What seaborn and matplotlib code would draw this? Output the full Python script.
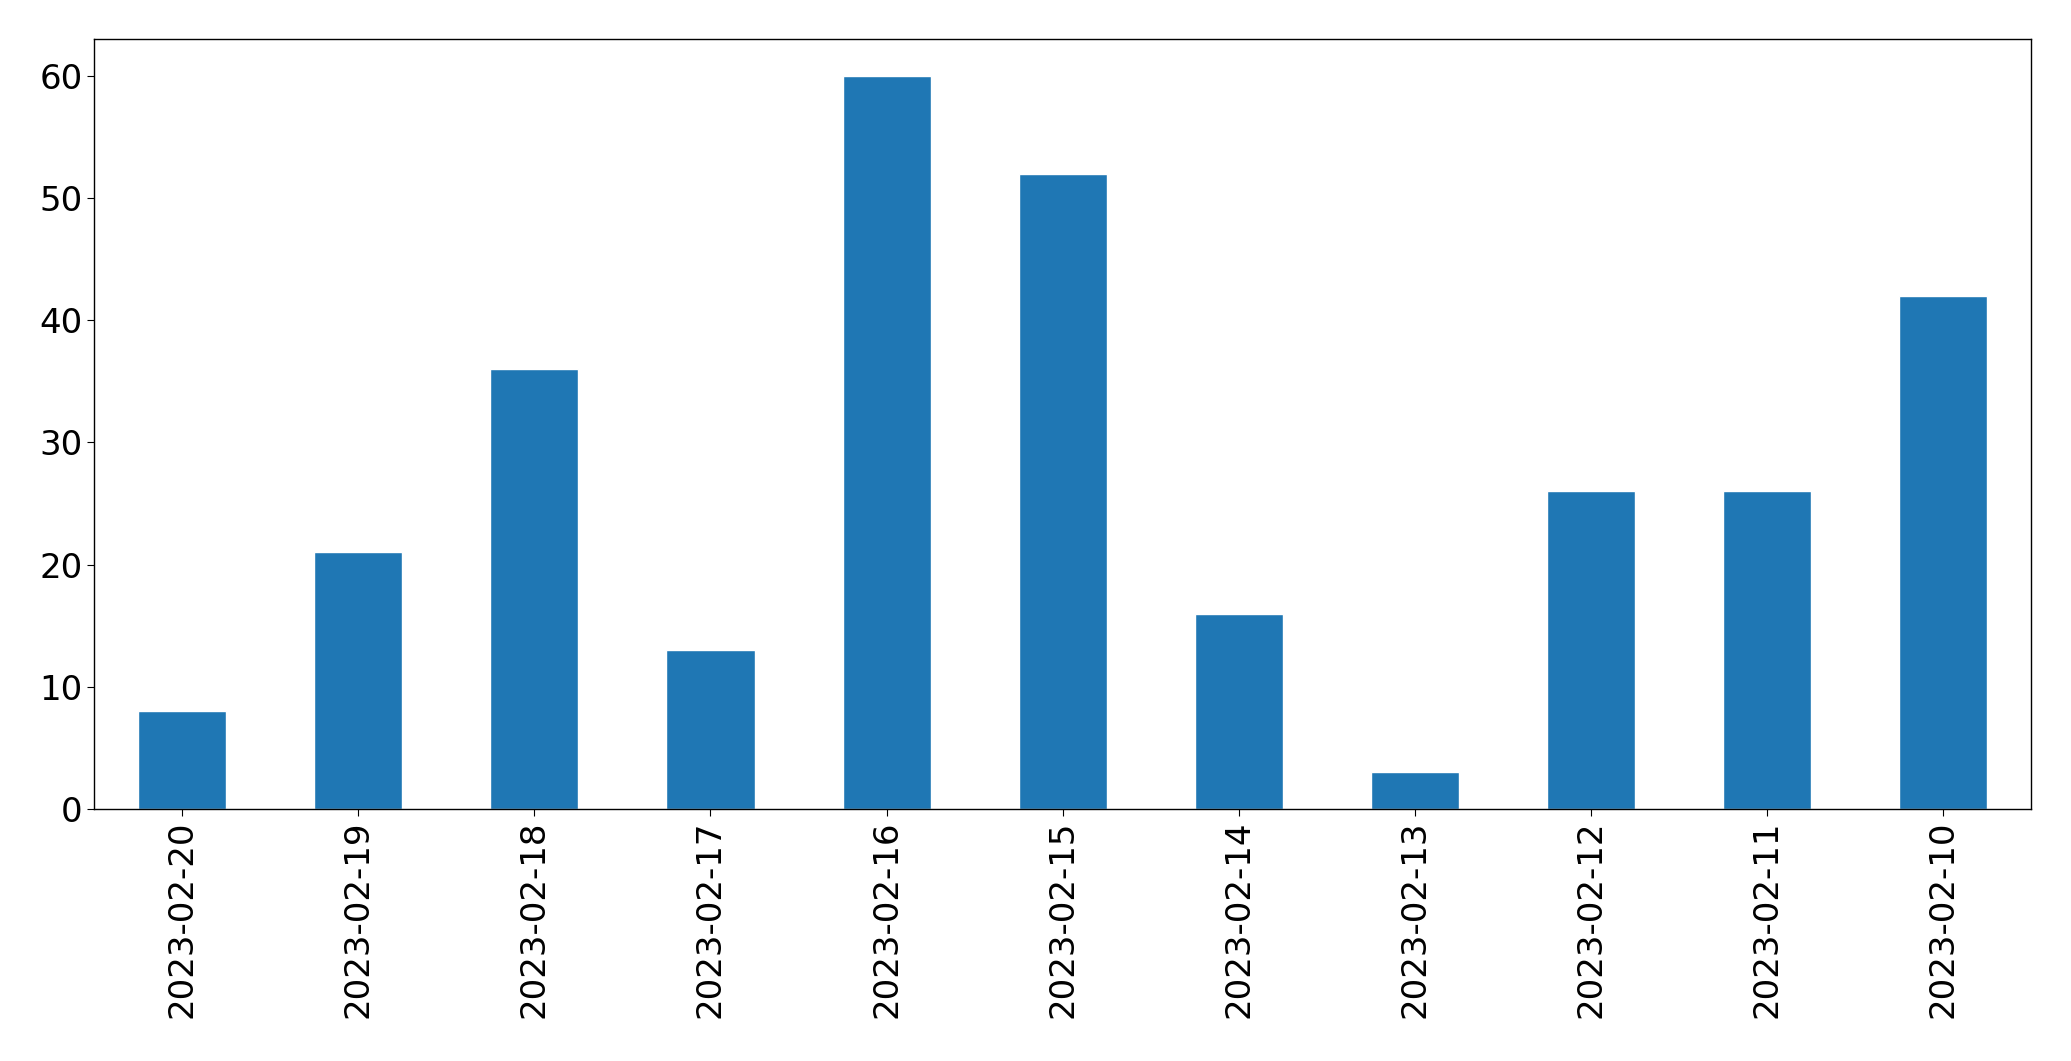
import matplotlib
matplotlib.use("Agg")
import matplotlib.pyplot as plt
import seaborn as sns
import pandas as pd

# counts per day, newest first (as in the source chart)
dates = ["2023-02-20", "2023-02-19", "2023-02-18", "2023-02-17", "2023-02-16",
         "2023-02-15", "2023-02-14", "2023-02-13", "2023-02-12", "2023-02-11",
         "2023-02-10"]
counts = [8, 21, 36, 13, 60, 52, 16, 3, 26, 26, 42]

df = pd.DataFrame({"date": dates, "count": counts})

sns.set_style("ticks")
plt.rcParams["font.family"] = ["DejaVu Sans"]

fig = plt.figure(figsize=(20.71, 10.61), dpi=100)
ax = fig.add_axes([0.0455, 0.2375, 0.9352, 0.7255])

sns.barplot(data=df, x="date", y="count", color="#1f77b4", saturation=1,
            width=0.5, ax=ax)

ax.set_xlim(-0.5, len(dates) - 0.5)
ax.set_ylim(0, 63)
ax.set_xlabel("")
ax.set_ylabel("")
ax.tick_params(axis="both", labelsize=24.5, length=5, colors="black")
ax.tick_params(axis="x", labelrotation=90)
for s in ax.spines.values():
    s.set_visible(True)
    s.set_linewidth(1)
    s.set_color("black")

fig.savefig("out.png", dpi=100)
